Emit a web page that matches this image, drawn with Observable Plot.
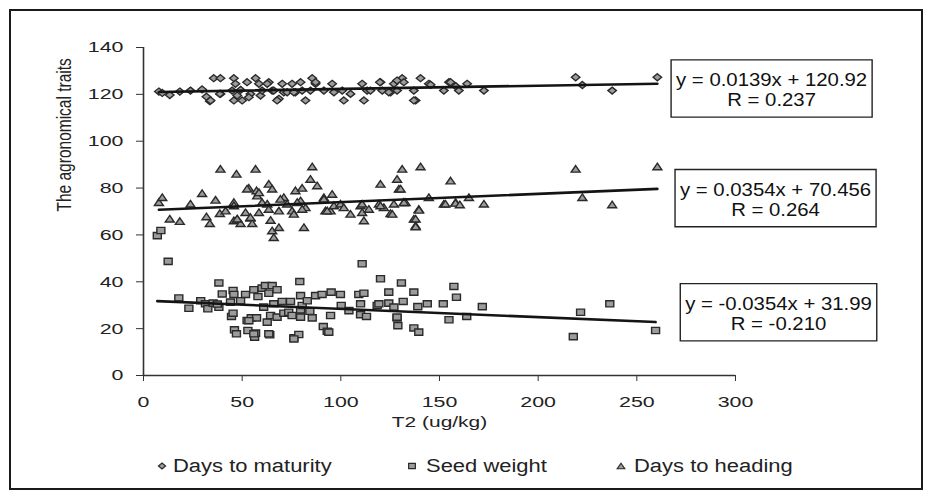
<!DOCTYPE html>
<html>
<head>
<meta charset="utf-8">
<script src="https://cdn.jsdelivr.net/npm/d3@7"></script>
<script src="https://cdn.jsdelivr.net/npm/@observablehq/plot@0.6"></script>
<style>
  html, body { margin: 0; padding: 0; background: #fff; }
  #wrap { position: relative; width: 933px; height: 499px; overflow: hidden; font-family: "Liberation Sans", Arial, sans-serif; color: #222; }
  #frame { position: absolute; left: 9px; top: 9px; width: 914px; height: 481px; box-sizing: border-box; border: 2px solid #1a1a1a; pointer-events: none; }
  #chart { position: absolute; left: 0; top: 0; }
  .leg { position: absolute; top: 454px; height: 24px; display: flex; align-items: center; font-size: 18px; white-space: nowrap; }
  .leg span { display: inline-block; transform: scaleX(1.22); transform-origin: left center; }
</style>
</head>
<body>
<div id="wrap">
  <div id="chart"></div>
  <div id="legend"></div>
  <div id="frame"></div>
</div>
<script>
// ---------- data ----------
const seriesNames = ["Days to maturity", "Seed weight", "Days to heading"];
const xTicks = [0, 50, 100, 150, 200, 250, 300];
const yTicks = [0, 20, 40, 60, 80, 100, 120, 140];
const xTitle = "T2 (ug/kg)";
const yTitle = "The agronomical traits";

// Days to maturity (diamonds)
const maturityX = [7.8, 9.5, 13.3, 18.4, 23.8, 29.7, 31.9, 33.6,
  35.6, 39.0, 34.0, 39.0, 45.8, 46.6, 44.9, 45.8, 50.0, 52.5, 54.2, 56.8, 58.5, 59.3, 63.5, 65.2, 68.6, 70.3, 71.1, 75.3, 77.0, 79.6, 80.4, 82.1, 85.5, 87.2, 84.6, 91.4, 95.6, 96.5, 101.5, 104.9, 110.8, 111.7, 113.3, 120.1, 121.0, 125.2, 126.9, 131.1, 131.9, 128.5, 137.0, 137.9, 140.4, 144.6,
  38.7, 49.2, 53.4, 60.1, 66.0, 72.8, 76.2, 87.2, 100.7, 115.0, 119.8, 124.3, 128.5, 137.0, 47.5, 62.7, 67.7,
  145.5, 152.2, 154.8, 158.2, 155.6, 159.8, 164.0, 172.5, 219.0, 222.4, 237.5, 260.4];
const maturityY = [121.2, 120.6, 119.7, 121.2, 121.6, 122.1, 119.0, 117.1,
  126.9, 126.9, 117.4, 120.2, 126.9, 124.5, 121.6, 117.4, 117.4, 125.2, 120.2, 126.9, 124.5, 119.5, 125.2, 121.6, 118.1, 124.5, 120.9, 124.5, 120.9, 125.2, 121.6, 117.4, 126.9, 124.5, 121.6, 121.6, 124.5, 120.9, 117.4, 120.2, 124.5, 117.4, 121.6, 125.2, 121.6, 120.9, 124.5, 126.9, 125.2, 121.6, 121.6, 117.4, 126.9, 124.5,
  120.2, 121.9, 118.8, 121.6, 121.6, 120.9, 120.9, 125.2, 121.6, 121.6, 125.2, 120.9, 125.9, 117.4, 119.5, 124.5, 117.4,
  124.1, 121.6, 125.2, 123.5, 125.2, 121.6, 124.5, 121.6, 127.3, 124.0, 121.6, 127.3];

// Seed weight (squares)
const seedX = [7.0, 8.8, 12.5, 17.9, 23.0, 29.0, 31.4, 32.6, 35.3, 38.2, 38.2, 39.9, 44.1, 44.6, 45.4, 45.4, 45.8, 46.1, 47.1, 49.2, 51.7, 52.5, 52.9, 54.6, 55.9, 56.3, 56.8, 57.3, 58.0, 60.1, 60.9, 61.8, 62.7, 63.5, 64.0, 64.4, 65.2, 66.0, 67.7, 67.7, 70.3, 71.1, 73.6, 74.5, 75.3, 76.2, 78.7, 79.2, 79.6, 79.6, 79.6, 80.4, 83.0, 84.3, 85.5, 87.2, 90.5, 91.1, 93.1, 94.8, 95.1, 99.8, 100.2, 104.1, 109.1, 110.0, 110.8, 111.7, 110.0, 113.0, 118.4, 119.3, 120.1, 124.3, 124.3, 126.9, 128.5, 128.9, 130.7, 131.6, 137.0, 137.0, 139.0, 139.5, 143.8, 151.9, 154.8, 157.3, 158.6, 163.8, 171.7, 221.5, 217.8, 236.3, 259.5,
  37.4, 53.4, 55.9, 63.5, 76.2, 93.9, 128.5];
const seedY = [59.7, 61.9, 48.7, 33.1, 28.7, 31.9, 30.6, 28.5, 30.9, 29.1, 39.5, 34.8, 31.3, 25.2, 26.6, 36.3, 34.6, 19.5, 17.8, 31.9, 34.6, 23.5, 19.2, 24.6, 36.6, 16.4, 18.1, 24.6, 33.7, 37.3, 29.2, 38.4, 22.8, 35.1, 17.4, 25.6, 38.4, 30.6, 36.6, 24.9, 31.6, 26.6, 27.0, 31.6, 25.6, 16.1, 17.5, 40.1, 34.1, 28.0, 24.9, 29.9, 31.9, 27.4, 24.6, 34.1, 34.6, 20.9, 18.9, 25.6, 35.6, 34.6, 29.9, 27.7, 34.6, 30.6, 47.7, 35.1, 26.0, 25.2, 29.9, 30.6, 41.3, 35.6, 30.9, 29.2, 24.6, 21.3, 39.5, 31.6, 35.6, 20.3, 29.4, 18.5, 30.6, 30.6, 23.8, 38.0, 33.4, 25.2, 29.4, 27.0, 16.6, 30.6, 19.2,
  30.5, 23.4, 17.8, 17.8, 15.6, 18.5, 24.9];

// Days to heading (triangles)
const headingX = [7.8, 9.5, 13.3, 18.4, 23.8, 29.7, 31.9, 33.6, 36.5, 39.0, 38.7, 41.6, 45.8, 45.8, 47.1, 47.5, 49.2, 51.7, 53.4, 54.2, 55.1, 56.8, 57.3, 57.6, 58.5, 60.1, 62.7, 63.5, 64.4, 65.2, 65.2, 66.0, 68.6, 68.6, 71.1, 72.8, 75.3, 76.2, 77.0, 79.6, 80.4, 81.3, 82.1, 84.6, 85.5, 88.0, 91.4, 92.2, 94.8, 95.6, 96.5, 99.8, 101.5, 104.9, 110.0, 110.8, 111.7, 114.2, 119.3, 120.1, 121.8, 125.2, 126.9, 128.5, 129.4, 131.1, 131.9, 137.0, 137.9, 139.5, 140.4, 144.6, 152.2, 155.6, 158.2,
  130.3, 132.8, 139.6, 137.9, 137.9, 153.0, 158.1, 160.3, 164.9, 172.5, 219.0, 222.4, 237.5, 260.4,
  45.8, 47.5, 52.5, 54.2, 58.5, 63.5, 69.4, 77.9, 80.4, 91.4, 93.1, 110.8, 120.1, 126.1, 132.0];
const headingY = [74.0, 76.1, 66.9, 65.9, 73.3, 77.8, 67.9, 65.0, 75.0, 88.2, 69.3, 70.4, 74.0, 66.2, 86.1, 66.9, 65.0, 69.7, 80.1, 67.3, 65.0, 88.2, 79.0, 76.8, 69.7, 74.0, 73.3, 81.8, 66.4, 79.7, 61.9, 59.0, 63.3, 70.4, 76.1, 73.3, 70.4, 69.0, 79.0, 74.7, 80.1, 63.3, 71.8, 83.9, 89.2, 81.1, 76.1, 70.4, 70.4, 77.5, 72.6, 73.3, 71.8, 69.0, 72.6, 69.7, 66.2, 71.1, 73.3, 81.8, 71.8, 69.3, 73.3, 83.9, 79.7, 88.2, 74.0, 66.9, 64.0, 71.1, 89.2, 76.1, 73.3, 83.2, 74.0,
  79.7, 74.0, 70.7, 66.9, 63.6, 73.3, 73.7, 73.0, 76.1, 73.3, 88.2, 76.1, 73.0, 89.2,
  72.6, 66.9, 79.7, 67.6, 78.2, 71.1, 75.4, 74.0, 71.1, 75.4, 70.4, 73.3, 72.6, 69.0, 74.0];

// Trendline equations printed on the chart
const slopes = [0.0139, -0.0354, 0.0354];
const intercepts = [120.92, 31.99, 70.456];
const equations = ["y = 0.0139x + 120.92", "y = -0.0354x + 31.99", "y = 0.0354x + 70.456"];
const rValues = ["R = 0.237", "R = -0.210", "R = 0.264"];

// ---------- build rows ----------
const zip = (xs, ys, s) => xs.map((x, i) => ({series: s, x, y: ys[i]}));
const maturity = zip(maturityX, maturityY, seriesNames[0]);
const seed = zip(seedX, seedY, seriesNames[1]);
const heading = zip(headingX, headingY, seriesNames[2]);
const groups = [maturity, seed, heading];

const trend = groups.flatMap((rows, k) => {
  const [x0, x1] = d3.extent(rows, d => d.x);
  return [x0, x1].map(x => ({series: seriesNames[k], x, y: slopes[k] * x + intercepts[k]}));
});

// equation annotation boxes (placed to the right of the plot)
const notes = [
  {text: equations[0] + "\n" + rValues[0], x: 318.3, y: 122.0},
  {text: equations[2] + "\n" + rValues[2], x: 320.3, y: 75.2},
  {text: equations[1] + "\n" + rValues[1], x: 321.8, y: 26.5}
];

// ---------- marker shapes (slightly wide, as in the reference) ----------
const symDiamond = {draw(ctx, size) { const r = Math.sqrt(size / Math.PI); const a = r * 0.85, b = r * 0.7;
  ctx.moveTo(0, -b); ctx.lineTo(a, 0); ctx.lineTo(0, b); ctx.lineTo(-a, 0); ctx.closePath(); }};
const symSquare = {draw(ctx, size) { const r = Math.sqrt(size / Math.PI); const a = r * 0.8, b = r * 0.62;
  ctx.moveTo(-a, -b); ctx.lineTo(a, -b); ctx.lineTo(a, b); ctx.lineTo(-a, b); ctx.closePath(); }};
const symTriangle = {draw(ctx, size) { const r = Math.sqrt(size / Math.PI); const a = r * 0.9, b = r * 0.66;
  ctx.moveTo(0, -b); ctx.lineTo(a, b); ctx.lineTo(-a, b); ctx.closePath(); }};

const FILL = "#9c9c9c", STROKE = "#2a2a2a";

const plot = Plot.plot({
  width: 933,
  height: 440,
  marginLeft: 143,
  marginRight: 198,
  marginTop: 47,
  marginBottom: 65,
  style: {fontFamily: "'Liberation Sans', Arial, sans-serif", fontSize: "15px", color: "#222", background: "transparent", overflow: "visible"},
  x: {domain: [0, 300]},
  y: {domain: [0, 140]},
  marks: [
    Plot.axisY({ticks: yTicks, tickSize: 7, tickPadding: 13, label: null, stroke: "#333", fontSize: 15.5}),
    Plot.axisX({ticks: xTicks, tickSize: 6, tickPadding: 14, label: null, stroke: "#333", fontSize: 15.5}),
    Plot.ruleX([0], {stroke: "#333", strokeWidth: 1.6}),
    Plot.ruleY([0], {stroke: "#333", strokeWidth: 1.6}),
    Plot.dot(maturity, {x: "x", y: "y", symbol: symDiamond, r: 5, fill: FILL, stroke: STROKE, strokeWidth: 1.4}),
    Plot.dot(seed, {x: "x", y: "y", symbol: symSquare, r: 5, fill: FILL, stroke: STROKE, strokeWidth: 1.4}),
    Plot.dot(heading, {x: "x", y: "y", symbol: symTriangle, r: 5, fill: FILL, stroke: STROKE, strokeWidth: 1.4}),
    Plot.line(trend, {x: "x", y: "y", z: "series", stroke: "#141414", strokeWidth: 2.6}),
    Plot.text(notes, {x: "x", y: "y", text: "text", fontSize: 18.5, lineHeight: 1.1, fill: "#111", ariaDescription: "equation"}),
    Plot.text([yTitle], {frameAnchor: "left", dx: -79, rotate: -90, fontSize: 15.5, fill: "#222", ariaDescription: "ytitle"}),
    Plot.text([xTitle], {frameAnchor: "bottom", dy: 51, fontSize: 15.5, fill: "#222", ariaDescription: "xtitle"})
  ]
});
document.getElementById("chart").appendChild(plot);

// horizontal stretch of text (the reference is a horizontally stretched picture)
function stretch(t, s) {
  const tr = t.getAttribute("transform") || "";
  const x = +t.getAttribute("x") || 0;
  t.setAttribute("transform", `${tr} translate(${x},0) scale(${s},1) translate(${-x},0)`);
}
plot.querySelectorAll('g[aria-label="y-axis tick label"] text, g[aria-label="x-axis tick label"] text').forEach(t => stretch(t, 1.38));
plot.querySelectorAll('g[aria-description="xtitle"] text').forEach(t => stretch(t, 1.35));
// rotated title: widen its thickness (local y maps to screen x after the rotation)
plot.querySelectorAll('g[aria-description="ytitle"] text').forEach(t => {
  const tr = t.getAttribute("transform") || "";
  t.setAttribute("transform", `${tr} scale(1,1.3)`);
});
plot.querySelectorAll('g[aria-description="equation"] text').forEach(t => {
  stretch(t, 1.1);
  const bb = t.getBBox();
  const r = document.createElementNS("http://www.w3.org/2000/svg", "rect");
  const px = 4.5, pt = 9, pb = 7;
  r.setAttribute("x", bb.x - px);
  r.setAttribute("y", bb.y - pt);
  r.setAttribute("width", bb.width + 2 * px);
  r.setAttribute("height", bb.height + pt + pb);
  r.setAttribute("transform", t.getAttribute("transform"));
  r.setAttribute("fill", "#fff");
  r.setAttribute("stroke", "#222");
  r.setAttribute("stroke-width", 1.4);
  r.setAttribute("vector-effect", "non-scaling-stroke");
  t.parentNode.insertBefore(r, t);
});

// ---------- legend ----------
const legendItems = [
  {name: seriesNames[0], sym: symDiamond, sx: 162, tx: 173},
  {name: seriesNames[1], sym: symSquare, sx: 412, tx: 426},
  {name: seriesNames[2], sym: symTriangle, sx: 621, tx: 634}
];
const legend = document.getElementById("legend");
legendItems.forEach(it => {
  const path = d3.symbol(it.sym, Math.PI * 4.2 * 4.2)();
  const s = document.createElementNS("http://www.w3.org/2000/svg", "svg");
  s.setAttribute("width", 14); s.setAttribute("height", 14);
  s.style.position = "absolute"; s.style.left = (it.sx - 7) + "px"; s.style.top = "459px";
  s.innerHTML = `<path d="${path}" transform="translate(7,7)" fill="${FILL}" stroke="${STROKE}" stroke-width="1.2"/>`;
  legend.appendChild(s);
  const d = document.createElement("div");
  d.className = "leg"; d.style.left = it.tx + "px";
  d.innerHTML = `<span>${it.name}</span>`;
  legend.appendChild(d);
});
</script>
</body>
</html>
